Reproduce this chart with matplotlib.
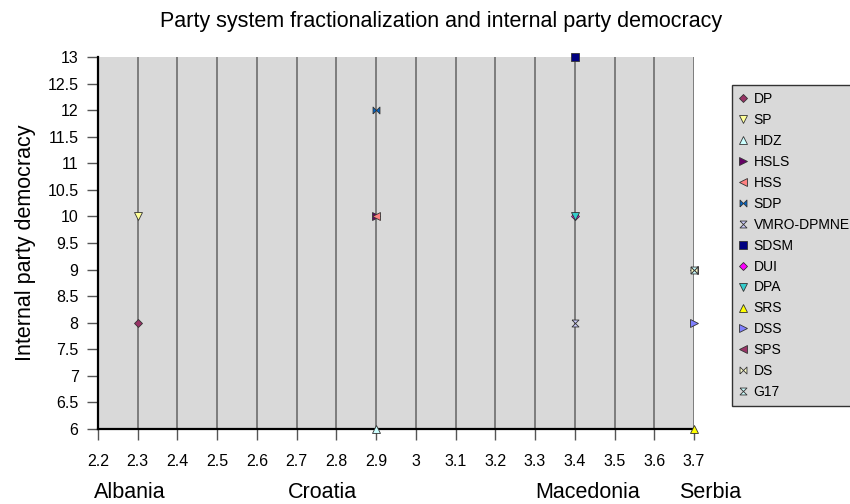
import matplotlib
matplotlib.use('Agg')
import numpy as np
import matplotlib.pyplot as plt

plt.rcParams['font.family'] = ['Liberation Sans', 'DejaVu Sans']

# data
parties = ['DP', 'SP', 'HDZ', 'HSLS', 'HSS', 'SDP', 'VMRO-DPMNE', 'SDSM',
           'DUI', 'DPA', 'SRS', 'DSS', 'SPS', 'DS', 'G17']
fractionalization = [2.3, 2.3, 2.9, 2.9, 2.9, 2.9, 3.4, 3.4,
                     3.4, 3.4, 3.7, 3.7, 3.7, 3.7, 3.7]
democracy = [8, 10, 6, 10, 10, 12, 8, 13,
             10, 10, 6, 8, 9, 9, 9]
countries = ['Albania', 'Croatia', 'Macedonia', 'Serbia']
x_ticks = np.round(np.arange(2.2, 3.71, 0.1), 1)
y_ticks = np.arange(6, 13.01, 0.5)

# marker styles (Excel-like)
bowtie = [(-1, -1), (-1, 1), (1, -1), (1, 1), (-1, -1)]
hourglass = [(-1, 1), (1, 1), (-1, -1), (1, -1), (-1, 1)]
markers = ['D', 'v', '^', '>', '<', bowtie, hourglass, 's',
           'D', 'v', '^', '>', '<', bowtie, hourglass]
colors = ['#993366', '#FFFF99', '#CCFFFF', '#660066', '#FF8080', '#0066CC',
          '#CCCCFF', '#000080', '#FF00FF', '#33CCCC', '#FFFF00', '#8080FF',
          '#993366', '#FFFFCC', '#CCFFFF']
sizes = [4.5, 6, 6, 6, 6, 5, 5, 6, 4.5, 6, 6, 6, 6, 5, 5]

fig = plt.figure(figsize=(8.5, 5.04), dpi=100)
ax = fig.add_axes([98 / 850, 1 - 429 / 504, 596 / 850, 372 / 504])
ax.set_facecolor('#D9D9D9')

for i in range(len(parties)):
    ax.plot(fractionalization[i], democracy[i], linestyle='none',
            marker=markers[i], markersize=sizes[i], markerfacecolor=colors[i],
            markeredgecolor='#333333', markeredgewidth=0.6,
            label=parties[i], clip_on=False, zorder=5)

ax.set_xlim(2.2, 3.7)
ax.set_ylim(6, 13)
ax.set_xticks(x_ticks)
ax.set_xticklabels(['%g' % v for v in x_ticks])
ax.set_yticks(y_ticks)
ax.set_yticklabels(['%g' % v for v in y_ticks])
ax.tick_params(axis='both', direction='out', length=8, width=1,
               color='#555555', labelsize=11.5, pad=6)
ax.tick_params(axis='x', pad=10)
ax.xaxis.grid(True, color='#6E6E6E', linewidth=1.2)
ax.set_axisbelow(True)
for s in ['top', 'right']:
    ax.spines[s].set_visible(False)
for s in ['left', 'bottom']:
    ax.spines[s].set_linewidth(1.6)
    ax.spines[s].set_color('black')
    ax.spines[s].set_zorder(4)

ax.set_ylabel('Internal party democracy', fontsize=15.5, labelpad=8)
fig.text(441 / 850, 1 - 22 / 504, 'Party system fractionalization and internal party democracy',
         fontsize=15.5, ha='center', va='center')

label_x = [130, 322, 588, 710]
for c, px in zip(countries, label_x):
    fig.text(px / 850, 1 - 492 / 504, c, fontsize=15.5, ha='center', va='center')

leg = fig.legend(loc='upper left', bbox_to_anchor=(732 / 850, 1 - 85 / 504),
                 fontsize=10, frameon=True, fancybox=False, handlelength=0.6,
                 handletextpad=0.45, labelspacing=0.5, borderpad=0.5,
                 borderaxespad=0, numpoints=1)
leg.get_frame().set_facecolor('#D9D9D9')
leg.get_frame().set_edgecolor('#333333')
leg.get_frame().set_linewidth(1.0)
leg.get_frame().set_alpha(1)

plt.savefig('out.png', dpi=100)
